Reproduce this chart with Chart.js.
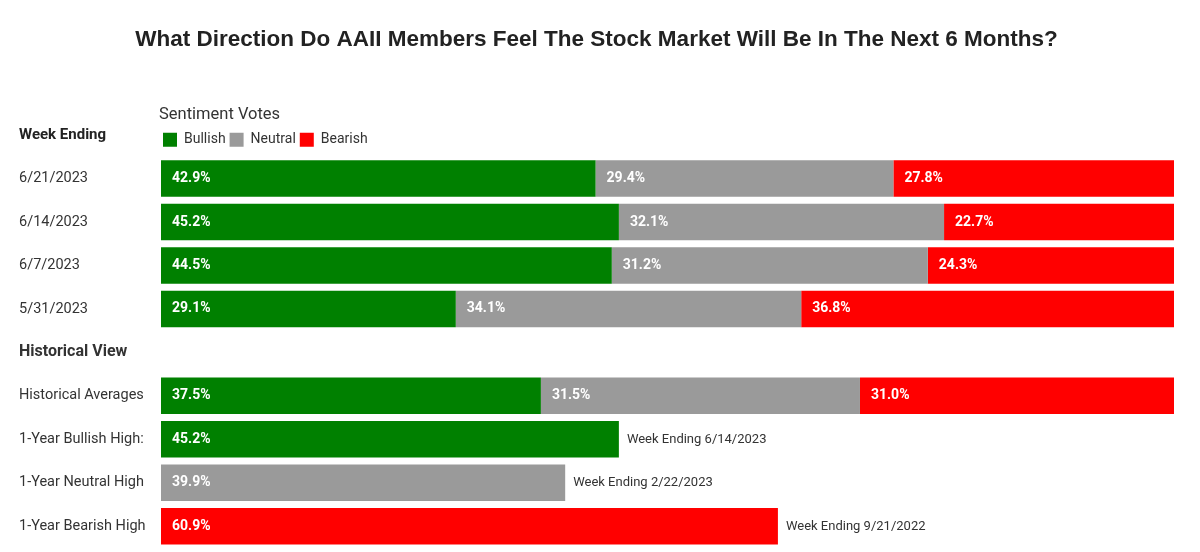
<!DOCTYPE html>
<html>
<head>
<meta charset="utf-8">
<script src="https://cdn.jsdelivr.net/npm/chart.js@4"></script>
<style>
  body { margin: 0; background: #fff; }
  #wrap { width: 1200px; height: 552px; }
</style>
</head>
<body>
<div id="wrap"><canvas id="bar-chart"></canvas></div>
<script>
const categories = ['6/21/2023', '6/14/2023', '6/7/2023', '5/31/2023', 'Historical View',
  'Historical Averages', '1-Year Bullish High:', '1-Year Neutral High', '1-Year Bearish High'];
const bullish = [42.9, 45.2, 44.5, 29.1, null, 37.5, 45.2, null, null];
const neutral = [29.4, 32.1, 31.2, 34.1, null, 31.5, null, 39.9, null];
const bearish = [27.8, 22.7, 24.3, 36.8, null, 31.0, null, null, 60.9];
const notes = ['', '', '', '', '', '', 'Week Ending 6/14/2023', 'Week Ending 2/22/2023', 'Week Ending 9/21/2022'];

// legend sits over the bars, not at the canvas edge
const moveLegend = {
  id: 'moveLegend',
  afterLayout(chart) {
    chart.legend.left = chart.chartArea.left - 2;
  }
};

const barText = {
  id: 'barText',
  afterDatasetsDraw(chart) {
    const ctx = chart.ctx;
    ctx.save();
    ctx.textBaseline = 'middle';
    ctx.textAlign = 'left';
    ctx.font = 'bold 14px Roboto';
    ctx.fillStyle = '#ffffff';
    const ends = [];
    chart.data.datasets.forEach((ds, i) => {
      chart.getDatasetMeta(i).data.forEach((bar, j) => {
        const v = ds.data[j];
        if (v == null) return;
        ctx.fillText(v.toFixed(1) + '%', Math.min(bar.x, bar.base) + 11, bar.y);
        ends[j] = { x: Math.max(ends[j] ? ends[j].x : 0, bar.x), y: bar.y };
      });
    });
    ctx.font = '13px Roboto';
    ctx.fillStyle = '#333333';
    notes.forEach((n, j) => {
      if (!n || !ends[j]) return;
      ctx.fillText(n, ends[j].x + 8, ends[j].y);
    });
    // column header for the date labels
    const hb = chart.legend.legendHitBoxes[0];
    ctx.font = 'bold 15px Roboto';
    ctx.fillStyle = '#222222';
    ctx.fillText('Week Ending', chart.scales.y.left, hb.top + hb.height / 2 - 5);
    ctx.restore();
  }
};

new Chart(document.getElementById('bar-chart'), {
  type: 'bar',
  data: {
    labels: categories,
    datasets: [
      { label: 'Bullish', data: bullish, backgroundColor: '#008000' },
      { label: 'Neutral', data: neutral, backgroundColor: '#9a9a9a' },
      { label: 'Bearish', data: bearish, backgroundColor: '#ff0000' }
    ]
  },
  options: {
    indexAxis: 'y',
    responsive: true,
    maintainAspectRatio: false,
    animation: false,
    categoryPercentage: 1,
    barPercentage: 0.84,
    layout: { padding: { left: 19, right: 26, bottom: 4, top: 0 } },
    scales: {
      x: { display: false, stacked: true, min: 0, max: 100 },
      y: {
        stacked: true,
        grid: { display: false },
        border: { display: false },
        afterFit(scale) {
          scale.width = 142;
          scale.paddingTop = 0;
          scale.paddingBottom = 0;
        },
        ticks: {
          crossAlign: 'far',
          color: '#333333',
          font: ctx => ctx.index === 4
            ? { family: 'Roboto', size: 16, weight: 'bold' }
            : { family: 'Roboto', size: 14.5 }
        }
      }
    },
    plugins: {
      title: {
        display: true,
        text: 'What Direction Do AAII Members Feel The Stock Market Will Be In The Next 6 Months?',
        color: '#222222',
        font: { family: 'Liberation Sans', size: 22.5, weight: 'bold' },
        padding: { top: 26, bottom: 54 }
      },
      legend: {
        position: 'top',
        align: 'start',
        title: {
          display: true,
          text: 'Sentiment Votes',
          position: 'start',
          color: '#333333',
          font: { family: 'Roboto', size: 16.5 },
          padding: { top: 0, bottom: 2 }
        },
        labels: {
          boxWidth: 14,
          boxHeight: 14,
          padding: 4,
          color: '#333333',
          font: { family: 'Roboto', size: 14 }
        }
      },
      tooltip: { enabled: false }
    }
  },
  plugins: [moveLegend, barText]
});
</script>
</body>
</html>
